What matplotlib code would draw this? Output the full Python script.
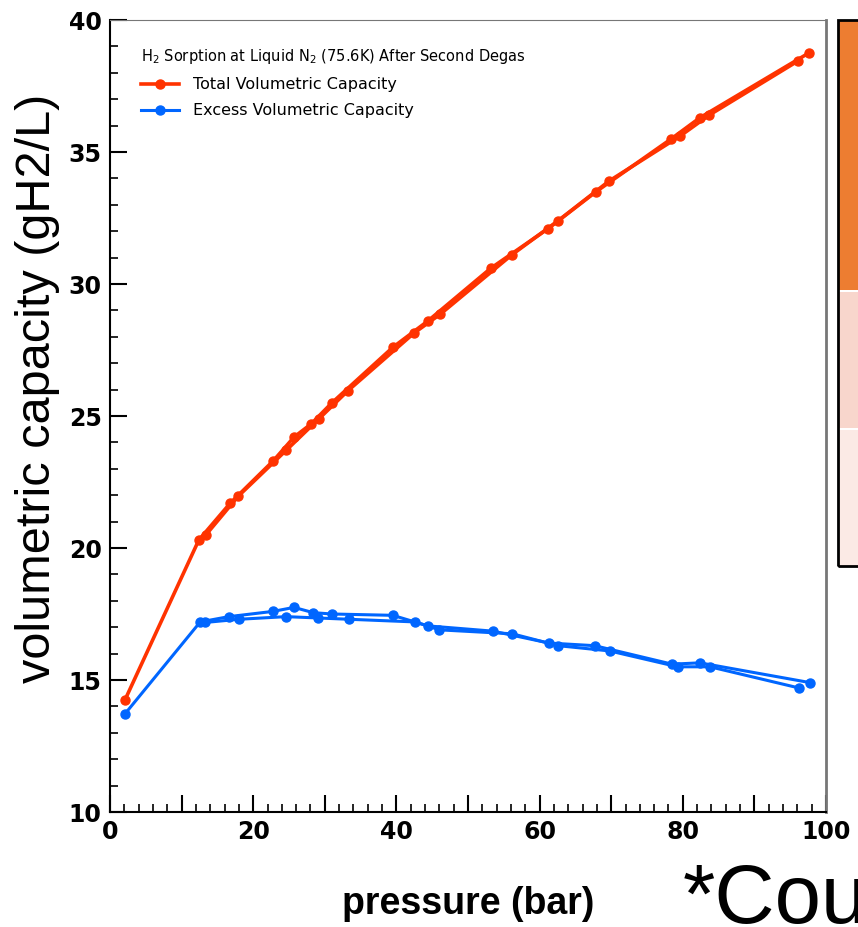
import numpy as np
import matplotlib
matplotlib.use("Agg")
import matplotlib.pyplot as plt
from matplotlib.patches import Rectangle
from matplotlib.ticker import MultipleLocator, FixedLocator, FuncFormatter

# total volumetric capacity, up-run and down-run
tot_up_p = [2.1, 12.4, 16.8, 22.8, 25.7, 28.1, 31.0, 39.5, 44.4, 53.2, 61.2, 67.9, 78.4, 82.4, 97.6]
tot_up_v = [14.25, 20.3, 21.7, 23.3, 24.2, 24.7, 25.5, 27.6, 28.6, 30.6, 32.1, 33.5, 35.5, 36.3, 38.75]
tot_dn_p = [96.1, 83.7, 79.6, 69.7, 62.6, 56.1, 46.1, 42.5, 33.2, 29.2, 24.6, 17.9, 13.4]
tot_dn_v = [38.45, 36.4, 35.6, 33.9, 32.4, 31.1, 28.85, 28.15, 25.95, 24.9, 23.7, 21.96, 20.5]

# excess volumetric capacity
exc_up_p = [2.1, 12.6, 16.6, 22.8, 25.7, 28.4, 31.0, 39.5, 44.4, 53.5, 61.3, 67.7, 78.5, 82.4, 97.8]
exc_up_v = [13.72, 17.2, 17.4, 17.6, 17.75, 17.55, 17.5, 17.45, 17.05, 16.85, 16.4, 16.3, 15.6, 15.65, 14.9]
exc_dn_p = [96.2, 83.8, 79.3, 69.8, 62.6, 56.2, 46.0, 42.6, 33.4, 29.0, 24.6, 18.0, 13.3]
exc_dn_v = [14.7, 15.5, 15.5, 16.1, 16.3, 16.75, 16.9, 17.2, 17.3, 17.35, 17.4, 17.3, 17.18]

red = "#ff3300"
blue = "#0066ff"
narrow = ["Liberation Sans Narrow", "Liberation Sans", "DejaVu Sans"]

fig = plt.figure(figsize=(8.58, 9.27), dpi=100)
ax = fig.add_axes([110/858, 1-812/927, (826-110)/858, (812-20)/927])

ax.plot(tot_up_p, tot_up_v, "-o", color=red, lw=2.6, ms=6.5, label="Total Volumetric Capacity")
ax.plot(tot_dn_p, tot_dn_v, "-o", color=red, lw=2.6, ms=6.5)
ax.plot(exc_up_p, exc_up_v, "-o", color=blue, lw=2.2, ms=6.5, label="Excess Volumetric Capacity")
ax.plot(exc_dn_p, exc_dn_v, "-o", color=blue, lw=2.2, ms=6.5)

ax.set_xlim(0, 100)
ax.set_ylim(10, 40)
ax.xaxis.set_major_locator(FixedLocator(np.arange(0, 101, 10)))
ax.xaxis.set_major_formatter(FuncFormatter(lambda v, p: "%d" % v if v % 20 == 0 else ""))
ax.xaxis.set_minor_locator(MultipleLocator(2))
ax.yaxis.set_major_locator(MultipleLocator(5))
ax.yaxis.set_minor_locator(MultipleLocator(1))
ax.tick_params(which="major", direction="in", length=12, width=1.5, labelsize=17, pad=6)
ax.tick_params(which="minor", direction="in", length=6, width=1.2)
for lab in ax.get_xticklabels() + ax.get_yticklabels():
    lab.set_fontweight("bold")
ax.spines["left"].set_linewidth(1.5)
ax.spines["bottom"].set_linewidth(1.5)
ax.spines["top"].set_color("#777777")
ax.spines["right"].set_color("#777777")
ax.spines["right"].set_linewidth(2)

ax.set_xlabel("pressure (bar)", fontsize=27, fontweight="bold", family=narrow, labelpad=30)
ax.set_ylabel("volumetric capacity (gH2/L)", fontsize=35, family=narrow, labelpad=6, y=0.535)

leg = ax.legend(loc="upper left", frameon=False, fontsize=11.5, labelspacing=0.7,
                title="H$_2$ Sorption at Liquid N$_2$ (75.6K) After Second Degas",
                title_fontsize=10.5, handlelength=2.4, handletextpad=0.9,
                borderaxespad=0.8, bbox_to_anchor=(0.016, 0.99))
leg._legend_box.align = "left"

# slide pieces around the chart
fig.patches.append(Rectangle((838/858, 1-290/927), 0.05, 270/927, transform=fig.transFigure,
                             facecolor="#ed7d31", edgecolor="none"))
fig.patches.append(Rectangle((838/858, 1-428/927), 0.05, 136/927, transform=fig.transFigure,
                             facecolor="#f8d6cc", edgecolor="none"))
fig.patches.append(Rectangle((838/858, 1-566/927), 0.05, 136/927, transform=fig.transFigure,
                             facecolor="#fbeae5", edgecolor="none"))
fig.patches.append(Rectangle((838/858, 1-566/927), 0.05, 546/927, transform=fig.transFigure,
                             facecolor="none", edgecolor="black", lw=2))
fig.text(683/858, 0.004, "*Cou", fontsize=60, family="Liberation Sans", va="baseline")

fig.savefig("out.png", dpi=100)
